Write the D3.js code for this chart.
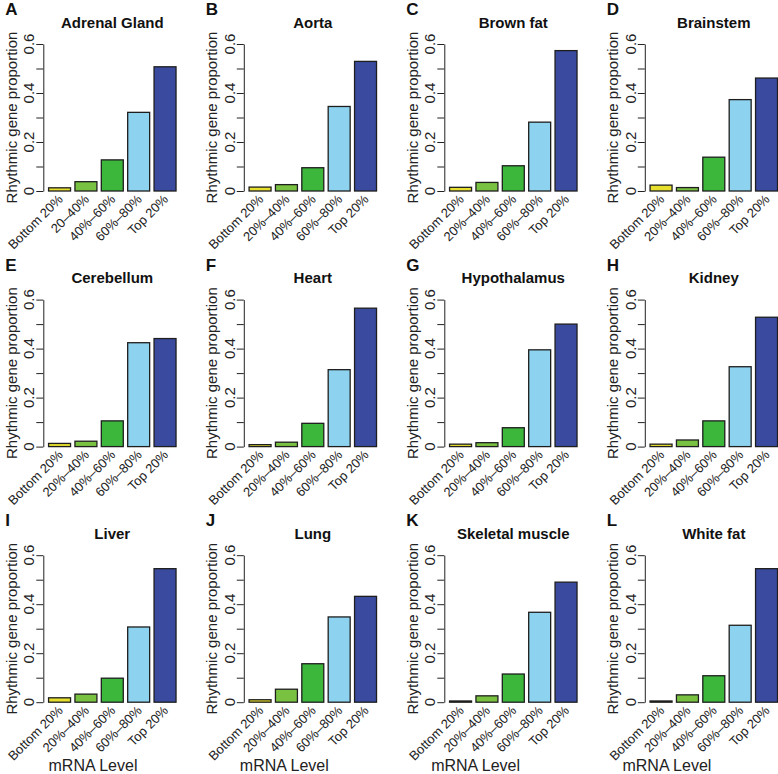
<!DOCTYPE html>
<html>
<head>
<meta charset="utf-8">
<script src="https://cdn.jsdelivr.net/npm/d3@7"></script>
<style>
  body { margin: 0; background: #fff; }
  svg { display: block; font-family: "Liberation Sans", Arial, Helvetica, sans-serif; }
</style>
</head>
<body>
<div id="chart"></div>
<script>
// mRNA level bins (panel A writes the second one without the first %)
const levels = ["Bottom 20%", "20%\u201340%", "40%\u201360%", "60%\u201380%", "Top 20%"];
const levelsA = ["Bottom 20%", "20\u201340%", "40%\u201360%", "60%\u201380%", "Top 20%"];
const barColors = ["#e6df2e", "#79c241", "#3cb73b", "#8dd3ef", "#3a4b9f"];

const tissues = ["Adrenal Gland", "Aorta", "Brown fat", "Brainstem",
                 "Cerebellum", "Heart", "Hypothalamus", "Kidney",
                 "Liver", "Lung", "Skeletal muscle", "White fat"];
const letters = ["A", "B", "C", "D", "E", "F", "G", "H", "I", "J", "K", "L"];

// rhythmic gene proportion per bin
const adrenal      = [0.013, 0.038, 0.127, 0.321, 0.507];
const aorta        = [0.016, 0.026, 0.095, 0.345, 0.529];
const brownFat     = [0.015, 0.035, 0.103, 0.281, 0.573];
const brainstem    = [0.024, 0.014, 0.138, 0.373, 0.461];
const cerebellum   = [0.013, 0.022, 0.105, 0.424, 0.441];
const heart        = [0.008, 0.018, 0.095, 0.314, 0.565];
const hypothalamus = [0.010, 0.016, 0.077, 0.395, 0.500];
const kidney       = [0.010, 0.027, 0.105, 0.326, 0.528];
const liver        = [0.018, 0.033, 0.098, 0.307, 0.545];
const lung         = [0.010, 0.053, 0.157, 0.348, 0.432];
const skeletal     = [0.005, 0.026, 0.115, 0.367, 0.490];
const whiteFat     = [0.005, 0.030, 0.108, 0.314, 0.545];

const yTicks = [0, 0.1, 0.2, 0.3, 0.4, 0.5, 0.6];
const yTickLabels = ["0", "", "0.2", "", "0.4", "", "0.6"];

const series = [adrenal, aorta, brownFat, brainstem, cerebellum, heart,
                hypothalamus, kidney, liver, lung, skeletal, whiteFat];

const width = 778, height = 774;

const svg = d3.select("#chart").append("svg")
    .attr("width", width)
    .attr("height", height);

series.forEach((vals, i) => {
    const col = i % 4, row = Math.floor(i / 4);
    const ax = 43.3 + col * 200.5;       // y axis position
    const y0 = 191 + row * 255.6;        // baseline (0)
    const y1 = y0 - 147;                 // 0.6

    // R barplot style: bars of width 1 with 0.2 space
    const x = d3.scaleLinear().domain([-0.04, 6.24]).range([ax, ax + 138]);
    const y = d3.scaleLinear().domain([0, 0.6]).range([y0, y1]);

    const g = svg.append("g");

    g.selectAll("rect")
        .data(vals)
        .enter()
        .append("rect")
        .attr("x", (d, k) => x(0.2 + 1.2 * k))
        .attr("width", x(1) - x(0))
        .attr("y", d => y(d))
        .attr("height", d => y(0) - y(d))
        .attr("fill", (d, k) => barColors[k])
        .attr("stroke", "#1e1e1e")
        .attr("stroke-width", 1.3);

    const axis = g.append("g")
        .attr("transform", `translate(${ax},0)`)
        .call(d3.axisLeft(y).tickValues(yTicks).tickSize(7).tickSizeOuter(0).tickFormat(""));
    axis.select(".domain").attr("stroke", "#222").attr("stroke-width", 1);
    axis.selectAll(".tick line").attr("stroke", "#222").attr("stroke-width", 1);

    g.selectAll("text.ylab")
        .data(yTicks)
        .enter()
        .append("text")
        .attr("class", "ylab")
        .attr("transform", d => `translate(${ax - 9},${y(d)}) rotate(-90)`)
        .attr("text-anchor", "middle")
        .attr("font-size", "15px")
        .attr("fill", "#222")
        .text((d, k) => yTickLabels[k]);

    const labels = i === 0 ? levelsA : levels;
    g.selectAll("text.xlab")
        .data(labels)
        .enter()
        .append("text")
        .attr("class", "xlab")
        .attr("transform", (d, k) => `translate(${x(0.7 + 1.2 * k) + 4},${y0 + 9}) rotate(-45)`)
        .attr("text-anchor", "end")
        .attr("font-size", "13px")
        .attr("fill", "#222")
        .text(d => d);

    g.append("text")
        .attr("transform", `translate(${ax - 26.5},${(y0 + y1) / 2}) rotate(-90)`)
        .attr("text-anchor", "middle")
        .attr("font-size", "15px")
        .attr("fill", "#222")
        .text("Rhythmic gene proportion");

    g.append("text")
        .attr("x", ax + 69)
        .attr("y", y1 - 16.5)
        .attr("text-anchor", "middle")
        .attr("font-size", "15px")
        .attr("font-weight", "bold")
        .attr("fill", "#111")
        .text(tissues[i]);

    g.append("text")
        .attr("x", ax - 38)
        .attr("y", y0 - 176)
        .attr("font-size", "17px")
        .attr("font-weight", "bold")
        .attr("fill", "#111")
        .text(letters[i]);

    if (row === 2) {
        g.append("text")
            .attr("x", 93 + col * 191.3)
            .attr("y", 771)
            .attr("text-anchor", "middle")
            .attr("font-size", "16px")
            .attr("fill", "#222")
            .text("mRNA Level");
    }
});
</script>
</body>
</html>
